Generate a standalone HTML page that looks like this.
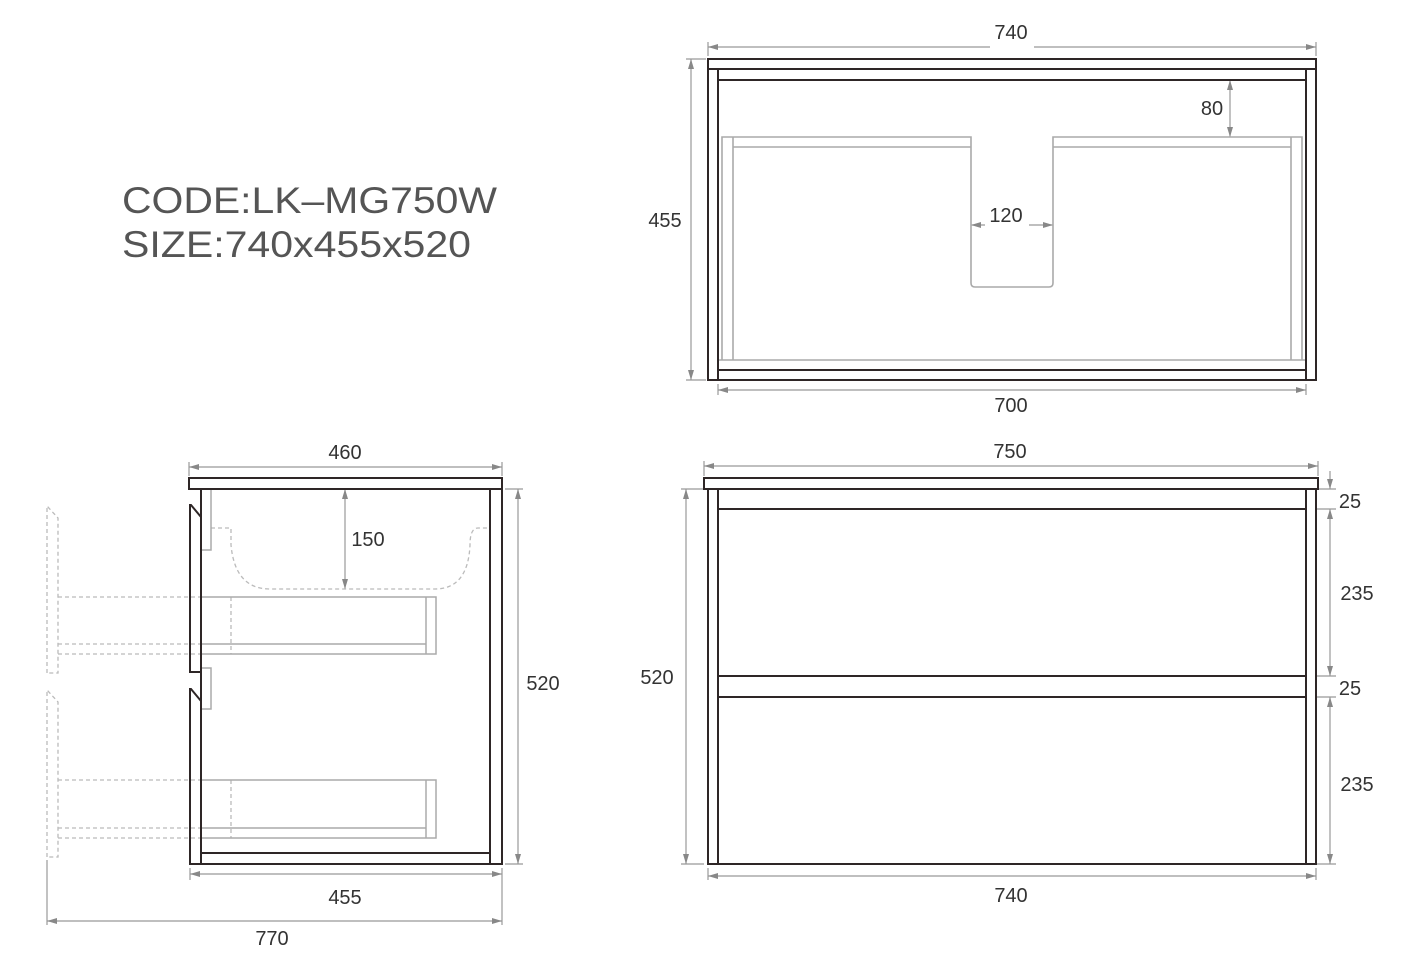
<!DOCTYPE html>
<html><head><meta charset="utf-8"><style>
html,body{margin:0;padding:0;background:#fff;}
svg{display:block;}
text{font-family:"Liberation Sans",sans-serif;}
</style></head><body>
<svg width="1428" height="975" viewBox="0 0 1428 975" xmlns="http://www.w3.org/2000/svg">
<defs>
<marker id="a" viewBox="0 0 10 6" refX="10" refY="3" markerWidth="10" markerHeight="6" markerUnits="userSpaceOnUse" orient="auto-start-reverse"><path d="M0,0 L10,3 L0,6 z" fill="#888"/></marker>
</defs>
<g fill="#555" font-size="37">
<text x="122" y="213" textLength="375" lengthAdjust="spacingAndGlyphs">CODE:LK–MG750W</text>
<text x="122" y="257" textLength="349" lengthAdjust="spacingAndGlyphs">SIZE:740x455x520</text>
</g>

<g stroke="#999" stroke-width="1.2" fill="none">
<line x1="708" y1="47" x2="1316" y2="47" marker-start="url(#a)" marker-end="url(#a)"/>
<line x1="708" y1="42" x2="708" y2="56"/><line x1="1316" y1="42" x2="1316" y2="56"/>
<line x1="691" y1="59" x2="691" y2="380" marker-start="url(#a)" marker-end="url(#a)"/>
<line x1="686" y1="59" x2="706" y2="59"/><line x1="686" y1="380" x2="706" y2="380"/>
<line x1="1230" y1="80" x2="1230" y2="137" marker-start="url(#a)" marker-end="url(#a)"/>
<line x1="971" y1="225" x2="1053" y2="225" marker-start="url(#a)" marker-end="url(#a)"/>
<line x1="718" y1="390" x2="1306" y2="390" marker-start="url(#a)" marker-end="url(#a)"/>
<line x1="718" y1="384" x2="718" y2="395"/><line x1="1306" y1="384" x2="1306" y2="395"/>

<line x1="189" y1="467" x2="502" y2="467" marker-start="url(#a)" marker-end="url(#a)"/>
<line x1="189" y1="462" x2="189" y2="476"/><line x1="502" y1="462" x2="502" y2="476"/>
<line x1="345" y1="489" x2="345" y2="589" marker-start="url(#a)" marker-end="url(#a)"/>
<line x1="518" y1="489" x2="518" y2="864" marker-start="url(#a)" marker-end="url(#a)"/>
<line x1="505" y1="489" x2="523" y2="489"/><line x1="505" y1="864" x2="523" y2="864"/>
<line x1="190" y1="874" x2="502" y2="874" marker-start="url(#a)" marker-end="url(#a)"/>
<line x1="190" y1="868" x2="190" y2="880"/><line x1="502" y1="868" x2="502" y2="925"/>
<line x1="47" y1="921" x2="502" y2="921" marker-start="url(#a)" marker-end="url(#a)"/>
<line x1="47" y1="860" x2="47" y2="925"/>

<line x1="704" y1="466" x2="1318" y2="466" marker-start="url(#a)" marker-end="url(#a)"/>
<line x1="704" y1="461" x2="704" y2="476"/><line x1="1318" y1="461" x2="1318" y2="476"/>
<line x1="686" y1="489" x2="686" y2="864" marker-start="url(#a)" marker-end="url(#a)"/>
<line x1="681" y1="489" x2="704" y2="489"/><line x1="681" y1="864" x2="704" y2="864"/>
<line x1="1330" y1="471" x2="1330" y2="489" marker-end="url(#a)"/>
<line x1="1330" y1="509" x2="1330" y2="676" marker-start="url(#a)" marker-end="url(#a)"/>
<line x1="1330" y1="697" x2="1330" y2="864" marker-start="url(#a)" marker-end="url(#a)"/>
<line x1="1318" y1="489" x2="1336" y2="489"/><line x1="1316" y1="509" x2="1336" y2="509"/>
<line x1="1316" y1="676" x2="1336" y2="676"/><line x1="1316" y1="697" x2="1336" y2="697"/>
<line x1="1316" y1="864" x2="1336" y2="864"/>
<line x1="708" y1="876" x2="1316" y2="876" marker-start="url(#a)" marker-end="url(#a)"/>
<line x1="708" y1="868" x2="708" y2="880"/><line x1="1316" y1="868" x2="1316" y2="880"/>
</g>

<g fill="#333" font-size="20" text-anchor="middle">
<rect x="990" y="20" width="44" height="32" fill="#fff"/>
<text x="1011" y="39">740</text>
<text x="665" y="227">455</text>
<text x="1212" y="115">80</text>
<rect x="985" y="205" width="44" height="25" fill="#fff"/>
<text x="1006" y="222">120</text>
<text x="1011" y="412">700</text>
<text x="345" y="459">460</text>
<text x="368" y="546">150</text>
<text x="543" y="690">520</text>
<text x="345" y="904">455</text>
<text x="272" y="945">770</text>
<text x="1010" y="458">750</text>
<text x="657" y="684">520</text>
<text x="1350" y="508">25</text>
<text x="1357" y="600">235</text>
<text x="1350" y="695">25</text>
<text x="1357" y="791">235</text>
<text x="1011" y="902">740</text>
</g>

<g stroke="#aaa" stroke-width="1.6" fill="none">
<path d="M722,360 L722,137 L971,137 L971,283 Q971,287 975,287 L1049,287 Q1053,287 1053,283 L1053,137 L1302,137 L1302,360"/>
<line x1="733" y1="137" x2="733" y2="360"/><line x1="1291" y1="137" x2="1291" y2="360"/>
<line x1="733" y1="147" x2="971" y2="147"/><line x1="1053" y1="147" x2="1291" y2="147"/>
<line x1="718" y1="360" x2="1306" y2="360"/>
</g>
<g stroke="#2e2626" stroke-width="2" fill="none">
<rect x="708" y="59" width="608" height="321"/>
<line x1="708" y1="69" x2="1316" y2="69"/>
<line x1="718" y1="69" x2="718" y2="380"/><line x1="1306" y1="69" x2="1306" y2="380"/>
<line x1="718" y1="80" x2="1306" y2="80"/>
<line x1="718" y1="370" x2="1306" y2="370"/>
</g>

<g stroke="#bbb" stroke-width="1.3" fill="none" stroke-dasharray="4,3">
<path d="M47,673 L47,506 L58,518 L58,673 Z"/>
<path d="M47,857 L47,690 L58,702 L58,857 Z"/>
<line x1="58" y1="597" x2="201" y2="597"/><line x1="58" y1="644" x2="201" y2="644"/><line x1="58" y1="654" x2="201" y2="654"/>
<line x1="231" y1="597" x2="231" y2="654"/>
<line x1="58" y1="780" x2="201" y2="780"/><line x1="58" y1="828" x2="201" y2="828"/><line x1="58" y1="838" x2="201" y2="838"/>
<line x1="231" y1="780" x2="231" y2="838"/>
<path d="M211,528 L231,528 L231,545 Q235,589 270,589 L435,589 Q468,589 470,545 Q470,528 478,528 L490,528"/>
</g>
<g stroke="#aaa" stroke-width="1.5" fill="none">
<rect x="201" y="489" width="10" height="61"/>
<rect x="201" y="668" width="10" height="41"/>
<rect x="201" y="597" width="235" height="57"/><line x1="426" y1="597" x2="426" y2="654"/><line x1="201" y1="644" x2="426" y2="644"/>
<rect x="201" y="780" width="235" height="58"/><line x1="426" y1="780" x2="426" y2="838"/><line x1="201" y1="828" x2="426" y2="828"/>
</g>
<g stroke="#2e2626" stroke-width="2" fill="none">
<rect x="189" y="478" width="313" height="11"/>
<line x1="201" y1="489" x2="201" y2="864"/>
<rect x="490" y="489" width="12" height="375"/>
<line x1="201" y1="853" x2="490" y2="853"/><line x1="201" y1="864" x2="490" y2="864"/>
<path d="M201,517 L191,505 L190,505 L190,672 L201,672"/>
<path d="M201,701 L191,689 L190,689 L190,864 L201,864"/>
</g>

<g stroke="#2e2626" stroke-width="2" fill="none">
<rect x="704" y="478" width="614" height="11"/>
<rect x="708" y="489" width="608" height="375"/>
<line x1="718" y1="489" x2="718" y2="864"/><line x1="1306" y1="489" x2="1306" y2="864"/>
<line x1="718" y1="509" x2="1306" y2="509"/>
<line x1="718" y1="676" x2="1306" y2="676"/><line x1="718" y1="697" x2="1306" y2="697"/>
</g>
</svg>
</body></html>
